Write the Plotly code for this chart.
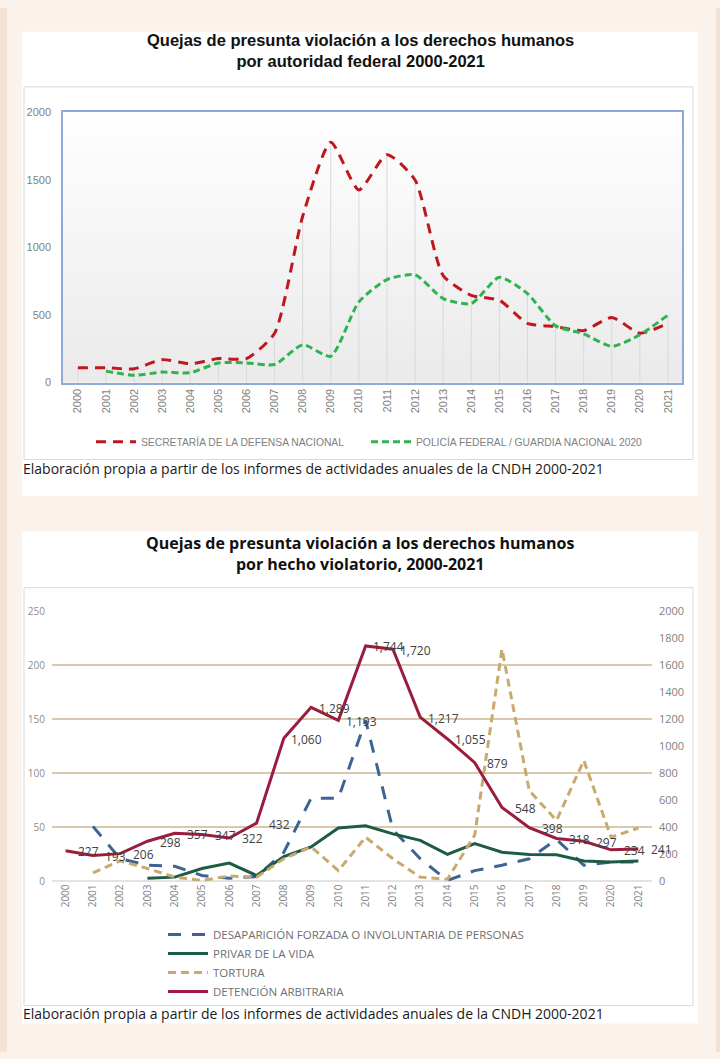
import plotly.graph_objects as go

# ---------------- data ----------------
years = [str(y) for y in range(2000, 2022)]

# Top chart: quejas por autoridad federal
sedena = [110, 110, 102, 170, 140, 178, 178, 366, 1232, 1780, 1427,
          1688, 1500, 793, 646, 610, 439, 415, 385, 483, 366, 439]
policia = [None, 85, 54, 78, 73, 146, 146, 134, 280, 195, 598,
           763, 798, 622, 585, 780, 659, 420, 361, 268, 354, 500]

# Bottom chart: quejas por hecho violatorio
desaparicion = [None, 51, 21, 15, 14, 5.5, 3, 4.5, 27, 77, 77,
                149, 48, 21, 1, 10, 15, 21, 39, 15, 18, 18]
privar = [None, None, None, 3, 4, 12, 17, 5.5, 23, 32, 49.5,
          51.6, 44, 38, 25, 35, 27, 25, 24.6, 19, 18, 19]
tortura = [None, 8, 19, 12, 4, 1, 5, 4, 21, 32, 10,
           41, 21, 4, 2, 43, 215, 84, 56.5, 112, 41, 49.5]
detencion = [227, 193, 206, 298, 357, 347, 322, 432, 1060, 1289, 1193,
             1744, 1720, 1217, 1055, 879, 548, 398, 318, 297, 234, 241]

title_top = "Quejas de presunta violación a los derechos humanos<br>por autoridad federal 2000-2021"
title_bot = "Quejas de presunta violación a los derechos humanos<br>por hecho violatorio, 2000-2021"
caption = "Elaboración propia a partir de los informes de actividades anuales de la CNDH 2000-2021"

W, H = 720, 1059


def fx(px):
    return px / W


def fy(py):
    return 1 - py / H


LIB = "Liberation Sans, Arial, sans-serif"
SANS = "Open Sans, Noto Sans, sans-serif"

fig = go.Figure()

# drop lines for top chart (from 0 to the highest of the two series)
dx, dy = [], []
for i, yr in enumerate(years):
    vals = [v for v in (sedena[i], policia[i]) if v is not None]
    dx += [yr, yr, None]
    dy += [0, max(vals), None]
fig.add_trace(go.Scatter(x=dx, y=dy, mode="lines", line=dict(color="#d9d9d9", width=1),
                         hoverinfo="skip", showlegend=False, xaxis="x", yaxis="y"))

fig.add_trace(go.Scatter(x=years, y=sedena, mode="lines", name="SECRETARÍA DE LA DEFENSA NACIONAL",
                         line=dict(color="#c0171f", width=3, dash="10px,7px", shape="spline", smoothing=0.6),
                         xaxis="x", yaxis="y", legend="legend"))
fig.add_trace(go.Scatter(x=years, y=policia, mode="lines", name="POLICÍA FEDERAL / GUARDIA NACIONAL 2020",
                         line=dict(color="#2eb350", width=3, dash="7px,4px", shape="spline", smoothing=0.6),
                         xaxis="x", yaxis="y", legend="legend3"))

# bottom chart
fig.add_trace(go.Scatter(x=years, y=desaparicion, mode="lines",
                         name="DESAPARICIÓN FORZADA O INVOLUNTARIA DE PERSONAS",
                         line=dict(color="#3d6494", width=3, dash="13px,11px"),
                         xaxis="x2", yaxis="y2", legend="legend2"))
fig.add_trace(go.Scatter(x=years, y=privar, mode="lines", name="PRIVAR DE LA VIDA",
                         line=dict(color="#1e5b45", width=3),
                         xaxis="x2", yaxis="y2", legend="legend2"))
fig.add_trace(go.Scatter(x=years, y=tortura, mode="lines", name="TORTURA",
                         line=dict(color="#c8aa6e", width=3, dash="8px,5px"),
                         xaxis="x2", yaxis="y2", legend="legend2"))
fig.add_trace(go.Scatter(x=years, y=detencion, mode="lines", name="DETENCIÓN ARBITRARIA",
                         line=dict(color="#9a1c3e", width=3),
                         xaxis="x2", yaxis="y3", legend="legend2"))

shapes = []
# side strips
shapes.append(dict(type="rect", xref="paper", yref="paper", x0=0, x1=fx(7), y0=0, y1=1,
                   fillcolor="#f4e3d5", line=dict(width=0), layer="below"))
shapes.append(dict(type="rect", xref="paper", yref="paper", x0=fx(716), x1=1, y0=0, y1=1,
                   fillcolor="#f4e3d5", line=dict(width=0), layer="below"))
# white cards
for (top, bot) in [(24, 495), (531, 1030)]:
    shapes.append(dict(type="rect", xref="paper", yref="paper", x0=fx(22), x1=fx(698),
                       y0=fy(bot), y1=fy(top), fillcolor="#ffffff", line=dict(width=0), layer="below"))
# inner chart borders
for (top, bot) in [(80, 458), (588, 1012)]:
    shapes.append(dict(type="rect", xref="paper", yref="paper", x0=fx(24), x1=fx(693),
                       y0=fy(bot), y1=fy(top), fillcolor="rgba(0,0,0,0)",
                       line=dict(color="#d9d9d9", width=1), layer="below"))
# gradient plot background for top chart
N = 40
for k in range(N):
    t = k / N
    c = int(round(255 - (255 - 234) * (1 - t)))
    shapes.append(dict(type="rect", xref="x domain", yref="y domain", x0=0, x1=1,
                       y0=t, y1=(k + 1) / N + 0.002,
                       fillcolor=f"rgb({c},{c},{c})", line=dict(width=0), layer="below"))

annotations = [
    dict(text=title_top, x=0.5, y=fy(43), xref="paper", yref="paper", showarrow=False,
         xanchor="center", yanchor="middle",
         font=dict(family=LIB, size=16.5, color="#111111", weight="bold")),
    dict(text=title_bot, x=0.5, y=fy(553), xref="paper", yref="paper", showarrow=False,
         xanchor="center", yanchor="middle",
         font=dict(family=SANS, size=16, color="#111111", weight="bold")),
    dict(text=caption, x=fx(21), y=fy(467), xref="paper", yref="paper", showarrow=False,
         xanchor="left", yanchor="middle", font=dict(family=SANS, size=14, color="#1a1a1a")),
    dict(text=caption, x=fx(21), y=fy(1020), xref="paper", yref="paper", showarrow=False,
         xanchor="left", yanchor="middle", font=dict(family=SANS, size=14, color="#1a1a1a")),
]
# data labels of DETENCIÓN ARBITRARIA (category axis -> use category index)
for i, v in enumerate(detencion):
    annotations.append(dict(text=f"{v:,}", x=i, y=v, xref="x2", yref="y3", showarrow=False,
                            xanchor="center", yanchor="middle", xshift=23, yshift=-1,
                            font=dict(family=SANS, size=12, color="#404040")))

top_legend_font = dict(family=LIB, size=10.3, color="#7f7f7f")

fig.update_layout(
    width=W, height=H, margin=dict(l=0, r=0, t=0, b=0),
    paper_bgcolor="#fbf3eb", plot_bgcolor="rgba(0,0,0,0)",
    shapes=shapes, annotations=annotations,
    xaxis=dict(domain=[fx(63), fx(682)], anchor="y", type="category", range=[-0.53, 21.5],
               tickangle=-90, showgrid=False, zeroline=False, ticks="",
               showline=True, mirror=True, linecolor="#8eaad6", linewidth=1.5,
               tickfont=dict(family=LIB, size=11, color="#7f7f7f")),
    yaxis=dict(domain=[fy(380), fy(106)], anchor="x", range=[0, 2000], dtick=500,
               showgrid=False, zeroline=False, ticks="", ticklabelstandoff=8,
               showline=True, mirror=True, linecolor="#8eaad6", linewidth=1.5,
               tickfont=dict(family=LIB, size=11, color="#7f7f7f")),
    xaxis2=dict(domain=[fx(52), fx(652)], anchor="y2", type="category", range=[-0.5, 21.5],
                tickangle=-90, showgrid=False, zeroline=False, ticks="", showline=False,
                tickfont=dict(family=SANS, size=10, color="#7f7f7f")),
    yaxis2=dict(domain=[fy(886), fy(612)], anchor="x2", range=[0, 250], dtick=50,
                showgrid=True, gridcolor="#d8c9ae", gridwidth=1.5,
                zeroline=True, zerolinecolor="#e3e3e3", zerolinewidth=1.5,
                ticks="", ticklabelstandoff=6,
                tickfont=dict(family=SANS, size=10, color="#8c8c8c")),
    yaxis3=dict(overlaying="y2", side="right", anchor="x2", range=[0, 2000], dtick=200,
                showgrid=False, zeroline=False, ticks="", ticklabelstandoff=6,
                tickfont=dict(family=SANS, size=11, color="#7f7f7f")),
    legend=dict(orientation="h", x=fx(91), y=fy(440), xanchor="left", yanchor="middle",
                bgcolor="rgba(0,0,0,0)", itemwidth=40, tracegroupgap=0,
                font=top_legend_font),
    legend3=dict(orientation="h", x=fx(366), y=fy(440), xanchor="left", yanchor="middle",
                 bgcolor="rgba(0,0,0,0)", itemwidth=40, tracegroupgap=0,
                 font=top_legend_font),
    legend2=dict(orientation="v", x=fx(163), y=fy(925), xanchor="left", yanchor="top",
                 bgcolor="rgba(0,0,0,0)", itemwidth=40, tracegroupgap=0,
                 font=dict(family=SANS, size=11.5, color="#6f6f6f")),
    showlegend=True,
)

fig.write_html("out.html", config={"displayModeBar": False},
               post_script="document.body.style.margin='0';document.body.style.overflow='hidden';")
